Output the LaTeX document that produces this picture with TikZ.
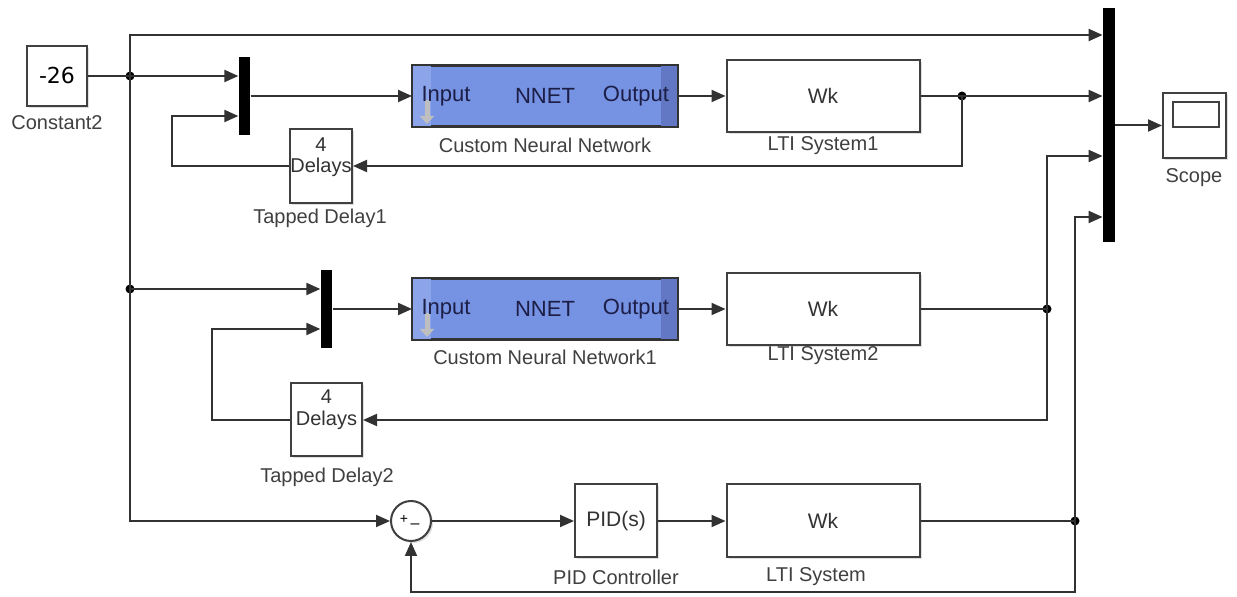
\documentclass[tikz,border=0pt]{standalone}
\usepackage{fontspec}
\setmainfont{Liberation Sans}
\newfontfamily\constfont{DejaVu Sans}
\usepackage{tikz}
\usetikzlibrary{arrows.meta,calc,shadows}

\definecolor{nnetblue}{RGB}{118,146,226}
\definecolor{nnetlight}{RGB}{140,164,234}
\definecolor{nnetdark}{RGB}{98,120,196}
\definecolor{nnettext}{RGB}{28,30,70}
\definecolor{wiregray}{RGB}{50,50,50}

\begin{document}
\begin{tikzpicture}[x=0.5pt,y=-0.5pt,
  wire/.style={draw=wiregray, line width=1pt},
  sig/.style={wire, -{Triangle[length=7pt,width=6pt]}},
  blockbox/.style={draw=black!75, line width=1pt, fill=white, inner sep=0pt,
    drop shadow={shadow xshift=1pt, shadow yshift=-1pt, opacity=0.25}},
  muxbar/.style={fill=black, inner sep=0pt, minimum width=5.75pt, minimum height=39pt},
  nnetbox/.style={draw=black!80, line width=1pt, fill=nnetblue, inner sep=0pt,
    minimum width=132pt, minimum height=30pt},
  nnetlabel/.style={font=\fontsize{11}{13}\selectfont, text=nnettext, inner sep=0pt},
  caption/.style={font=\fontsize{10}{12}\selectfont, text=black!75, inner sep=0pt},
  blocktext/.style={font=\fontsize{10.5}{12}\selectfont, text=black!80, inner sep=0pt},
  dot/.style={circle, fill=black, inner sep=0pt, minimum size=4.5pt}]

\useasboundingbox[fill=white] (0,0) rectangle (1237,597);

% blocks
\node [blockbox, minimum width=30pt, minimum height=30pt,
       font=\constfont\fontsize{11}{13}\selectfont] (const) at (57,76) {-26};
\node [caption] (constlbl) at (57,123) {Constant2};

\node [muxbar] (mux1) at (244.5,96) {};
\node [muxbar] (mux2) at (326.5,309) {};
\node [muxbar, minimum width=6pt, minimum height=117pt] (smux) at (1109,125.5) {};

\node [nnetbox] (nnet1) at (545,96) {};
\node [nnetbox] (nnet2) at (545,309) {};
\foreach \net in {nnet1,nnet2}{
  \fill[nnetlight] ($(\net.north west)+(1,1)$) rectangle ($(\net.south west)+(19,-1)$);
  \fill[nnetdark] ($(\net.north east)+(-17,1)$) rectangle ($(\net.south east)+(-1,-1)$);
  \draw[black!80, line width=1pt] (\net.north west) rectangle (\net.south east);
  \draw[gray!50, line width=2.5pt, -{Triangle[length=4pt,width=7pt]}]
    ($(\net.west)+(15,4)$) -- ($(\net.south west)+(15,-3)$);
  \node [nnetlabel] at ($(\net.west)+(34,0)$) {Input};
  \node [nnetlabel] at (\net.center) {NNET};
  \node [nnetlabel] at ($(\net.east)+(-42,0)$) {Output};
}
\node [caption] (nnet1lbl) at (545,145) {Custom Neural Network};
\node [caption] (nnet2lbl) at (545,357) {Custom Neural Network1};

\node [blockbox, minimum width=96.5pt, minimum height=36pt, blocktext] (lti1) at (823,96) {Wk};
\node [blockbox, minimum width=96.5pt, minimum height=36pt, blocktext] (lti2) at (823,309) {Wk};
\node [blockbox, minimum width=96.5pt, minimum height=36.5pt, blocktext] (lti3) at (823,521) {Wk};
\node [caption] (lti1lbl) at (823,146) {LTI System1};
\node [caption] (lti2lbl) at (823,356) {LTI System2};
\node [caption] (lti3lbl) at (816,577) {LTI System};

\node [blockbox, minimum width=31pt, minimum height=37pt] (delay1) at (321,166) {};
\node [blocktext, align=center, font=\fontsize{10}{10.5}\selectfont] (delay1txt) at (321,157) {4\\Delays};
\node [caption] (delay1lbl) at (320,218) {Tapped Delay1};
\node [blockbox, minimum width=35.5pt, minimum height=36.5pt] (delay2) at (326.5,420) {};
\node [blocktext, align=center, font=\fontsize{10}{11}\selectfont] (delay2txt) at (326.5,410) {4\\Delays};
\node [caption] (delay2lbl) at (327,477) {Tapped Delay2};

\node [blockbox, circle, minimum size=20pt] (sum) at (411,521) {};
\node [inner sep=0pt, font=\fontsize{7}{7}\selectfont] (sumplus) at (404,519) {+};
\node [inner sep=0pt, font=\fontsize{8}{8}\selectfont] (summinus) at (415,526) {--};

\node [blockbox, minimum width=41pt, minimum height=36.5pt, blocktext] (pid) at (616,521) {PID(s)};
\node [caption] (pidlbl) at (616,577) {PID Controller};

\node [blockbox, minimum width=31.5pt, minimum height=32.5pt] (scope) at (1194.5,125.5) {};
\node [draw=black!75, line width=0.8pt, minimum width=23pt, minimum height=12.5pt,
       inner sep=0pt] (screen) at (1196,114.5) {};
\node [caption] (scopelbl) at (1194,178) {Scope};

% junctions and bends
\coordinate (j0) at (130,76);
\coordinate (j1) at (130,289);
\coordinate (j2) at (962,96);
\coordinate (j3) at (1047,309);
\coordinate (j4) at (1075,521);
\coordinate (top0) at (130,35);
\coordinate (fb1) at (172,116);
\coordinate (fb2) at (212,329);
\coordinate (up2) at (1047,156);
\coordinate (up3) at (1075,217);
\node [dot] (d0) at (j0) {};
\node [dot] (d1) at (j1) {};
\node [dot] (d2) at (j2) {};
\node [dot] (d3) at (j3) {};
\node [dot] (d4) at (j4) {};

% top row
\draw[wire] (const.east) -- (j0);
\draw[sig] (j0) -- (j0 -| mux1.west);
\draw[sig] (j0) -- (top0) -- (top0 -| smux.west);
\draw[sig] (mux1.east) -- (nnet1.west);
\draw[sig] (nnet1.east) -- (lti1.west);
\draw[wire] (lti1.east) -- (j2);
\draw[sig] (j2) -- (j2 -| smux.west);
\draw[sig] (j2) |- (delay1.east);
\draw[sig] (delay1.west) -| (fb1) -- (fb1 -| mux1.west);

% middle row
\draw[sig] (j0) -- (j0 |- sum.west) -- (sum.west);
\draw[sig] (j1) -- (j1 -| mux2.west);
\draw[sig] (mux2.east) -- (nnet2.west);
\draw[sig] (nnet2.east) -- (lti2.west);
\draw[wire] (lti2.east) -- (j3);
\draw[sig] (j3) -- (up2) -- (up2 -| smux.west);
\draw[sig] (j3) |- (delay2.east);
\draw[sig] (delay2.west) -| (fb2) -- (fb2 -| mux2.west);

% bottom row
\draw[sig] (sum.east) -- (pid.west);
\draw[sig] (pid.east) -- (lti3.west);
\draw[wire] (lti3.east) -- (j4);
\draw[sig] (j4) -- (up3) -- (up3 -| smux.west);
\draw[sig] (j4) -- ++(0,71) -| (sum.south);

\draw[sig] (smux.east) -- (scope.west);

\end{tikzpicture}
\end{document}
